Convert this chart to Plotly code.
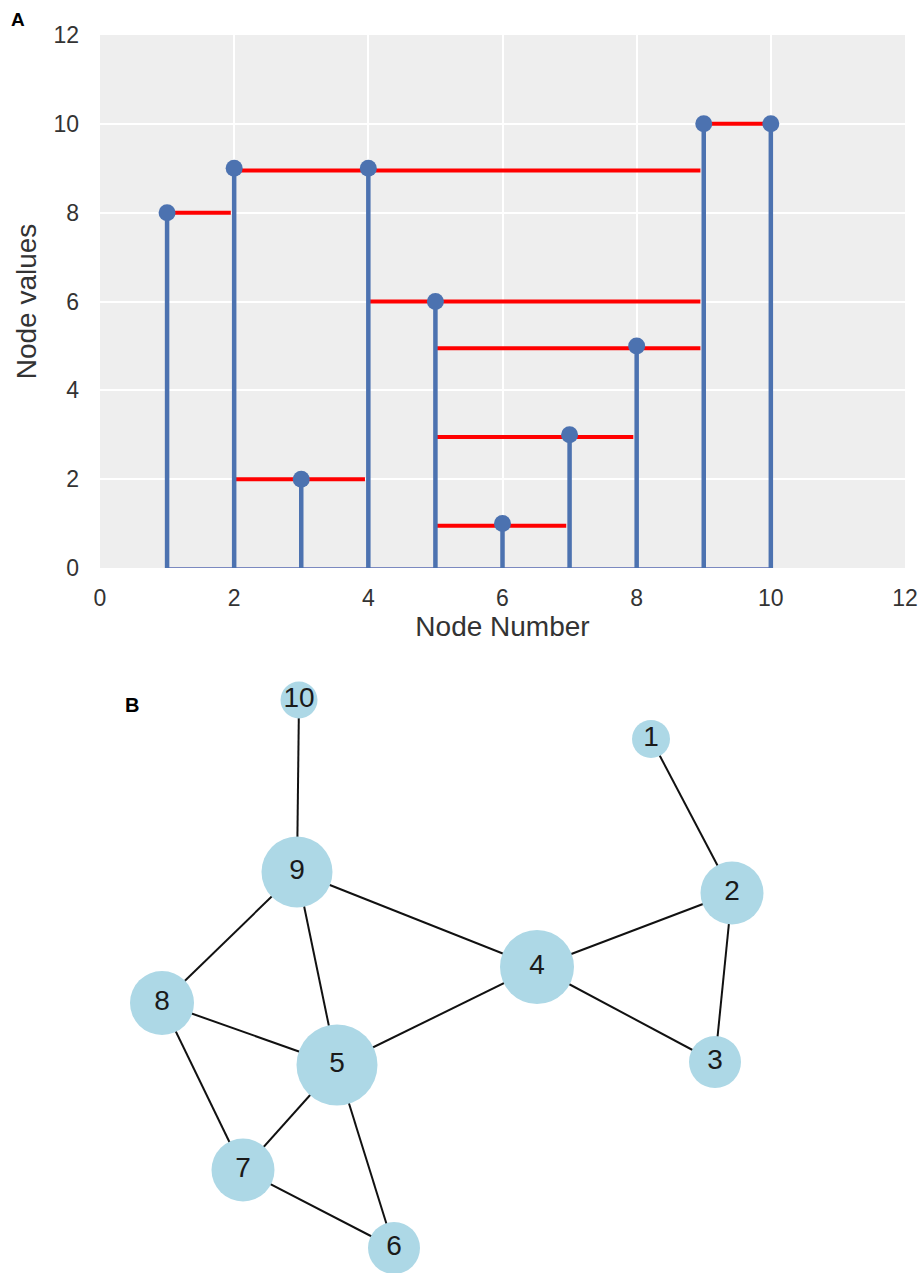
import plotly.graph_objects as go

W, H = 922, 1273

# ---------- Panel A data ----------
node_numbers = [1, 2, 3, 4, 5, 6, 7, 8, 9, 10]
node_values = [8, 9, 2, 9, 6, 1, 3, 5, 10, 10]

red_y = [8, 8.95, 10, 2, 6, 4.95, 2.95, 0.95]
red_x0 = [1, 2, 9, 2, 4, 5, 5, 5]
red_x1 = [1.95, 8.95, 10, 3.95, 8.95, 8.95, 7.95, 6.95]

x_ticks = [0, 2, 4, 6, 8, 10, 12]
y_ticks = [0, 2, 4, 6, 8, 10, 12]

# ---------- Panel B data (pixel layout of the network drawing) ----------
net_labels = ["1", "2", "3", "4", "5", "6", "7", "8", "9", "10"]
net_x = [651, 732, 715, 537, 337, 394, 243, 162, 297, 299]
net_y = [739, 893, 1062, 967, 1065, 1248, 1170, 1003, 872, 700]
net_size = [38, 63, 52, 74, 81, 52, 63, 64, 71, 37]
edges = [(10, 9), (1, 2), (9, 4), (9, 8), (9, 5), (2, 4), (2, 3), (4, 3),
         (4, 5), (8, 5), (8, 7), (5, 7), (5, 6), (7, 6)]

BLUE = "#4C72B0"
FONT = "Liberation Sans, Arial, sans-serif"

fig = go.Figure()

# red horizontal segments
rx, ry = [], []
for y, a, b in zip(red_y, red_x0, red_x1):
    rx += [a, b, None]
    ry += [y, y, None]
fig.add_trace(go.Scatter(x=rx, y=ry, mode="lines", line=dict(color="#FF0000", width=4),
                         xaxis="x", yaxis="y", hoverinfo="skip", showlegend=False))

# baseline
fig.add_trace(go.Scatter(x=[min(node_numbers), max(node_numbers)], y=[0, 0], mode="lines",
                         line=dict(color="#5567B0", width=1.5), xaxis="x", yaxis="y",
                         hoverinfo="skip", showlegend=False))

# stems
sx, sy = [], []
for n, v in zip(node_numbers, node_values):
    sx += [n, n, None]
    sy += [0, v, None]
fig.add_trace(go.Scatter(x=sx, y=sy, mode="lines", line=dict(color=BLUE, width=4.5),
                         xaxis="x", yaxis="y", hoverinfo="skip", showlegend=False))

# markers
fig.add_trace(go.Scatter(x=node_numbers, y=node_values, mode="markers",
                         marker=dict(color=BLUE, size=17, opacity=1), xaxis="x", yaxis="y",
                         showlegend=False))

# ---------- Panel B ----------
pos = {lab: (x, y) for lab, x, y in zip(net_labels, net_x, net_y)}
ex, ey = [], []
for a, b in edges:
    xa, ya = pos[str(a)]
    xb, yb = pos[str(b)]
    ex += [xa, xb, None]
    ey += [ya, yb, None]
fig.add_trace(go.Scatter(x=ex, y=ey, mode="lines", line=dict(color="#111111", width=2),
                         xaxis="x2", yaxis="y2", hoverinfo="skip", showlegend=False))
fig.add_trace(go.Scatter(x=net_x, y=net_y, mode="markers+text", text=net_labels,
                         textposition="middle center",
                         textfont=dict(family=FONT, size=28, color="#1a1a1a"),
                         marker=dict(color="#ADD8E6", size=net_size, opacity=1, line=dict(width=0)),
                         xaxis="x2", yaxis="y2", showlegend=False))

# layout
a_left, a_right, a_top, a_bottom = 100, 905, 35, 568
b_top = 620

fig.update_layout(
    width=W, height=H,
    margin=dict(l=0, r=0, t=0, b=0),
    paper_bgcolor="white", plot_bgcolor="rgba(0,0,0,0)",
    font=dict(family=FONT, color="#333333"),
    xaxis=dict(domain=[a_left / W, a_right / W], range=[0, 12], tickvals=x_ticks,
               showgrid=True, gridcolor="white", gridwidth=2, zeroline=False,
               showline=False, ticks="", tickfont=dict(size=23, color="#333333"),
               ticklabelstandoff=14, automargin=False,
               title=dict(text="Node Number", font=dict(size=28, color="#333333"), standoff=6),
               anchor="y"),
    yaxis=dict(domain=[1 - a_bottom / H, 1 - a_top / H], range=[0, 12], tickvals=y_ticks,
               showgrid=True, gridcolor="white", gridwidth=2, zeroline=False,
               showline=False, ticks="", tickfont=dict(size=23, color="#333333"),
               ticklabelstandoff=20, automargin=False,
               title=dict(text="Node values", font=dict(size=28, color="#333333"), standoff=8),
               anchor="x"),
    xaxis2=dict(domain=[0, 1], range=[0, W], visible=False, anchor="y2"),
    yaxis2=dict(domain=[0, 1 - b_top / H], range=[H, b_top], visible=False, anchor="x2"),
    shapes=[dict(type="rect", xref="x domain", yref="y domain", x0=0, x1=1, y0=0, y1=1,
                 fillcolor="#EEEEEE", line=dict(width=0), layer="below")],
    annotations=[
        dict(text="<b>A</b>", x=18 / W, y=1 - 20 / H, xref="paper", yref="paper",
             showarrow=False, font=dict(size=19, color="black"), xanchor="center", yanchor="middle"),
        dict(text="<b>B</b>", x=132 / W, y=1 - 705 / H, xref="paper", yref="paper",
             showarrow=False, font=dict(size=20, color="black"), xanchor="center", yanchor="middle"),
    ],
)

fig.write_html("out.html")
